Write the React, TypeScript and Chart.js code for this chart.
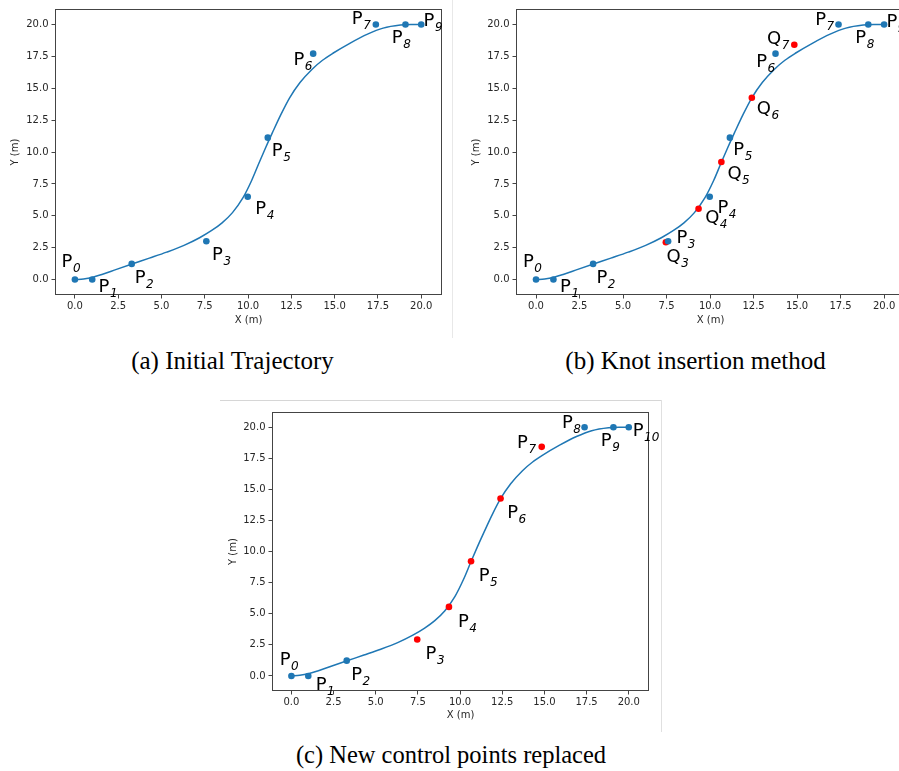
import React, { useEffect, useRef } from "react";
import { Chart, registerables } from "chart.js";

Chart.register(...registerables);

// ---------- data ----------
const tickValues = [0, 2.5, 5, 7.5, 10, 12.5, 15, 17.5, 20];

// B-spline trajectory
const curveX = [0, 0.5, 1.0, 1.6, 2.4, 3.3, 4.3, 5.3, 6.3, 7.2, 7.9, 8.5, 9.1, 9.7, 10.2, 10.65, 11.0, 11.4, 11.9, 12.4, 13.0, 13.7, 14.3, 14.9, 15.9, 16.9, 17.8, 18.8, 19.4, 20.0];
const curveY = [0, 0.05, 0.17, 0.42, 0.8, 1.22, 1.68, 2.15, 2.68, 3.28, 3.85, 4.45, 5.25, 6.4, 7.75, 9.2, 10.3, 11.5, 12.95, 14.25, 15.45, 16.5, 17.2, 17.75, 18.55, 19.25, 19.72, 19.96, 20.0, 20.0];

// initial control points P0..P9
const initialX = [0, 1.0, 3.28, 7.59, 9.98, 11.14, 13.76, 17.38, 19.09, 20.0];
const initialY = [0, 0, 1.23, 3.01, 6.49, 11.13, 17.72, 20.0, 20.0, 20.0];
const initialNames = ["0", "1", "2", "3", "4", "5", "6", "7", "8", "9"];

// inserted control points Q3..Q7
const insertedX = [7.46, 9.34, 10.65, 12.4, 14.84];
const insertedY = [2.93, 5.55, 9.22, 14.26, 18.42];
const insertedNames = ["3", "4", "5", "6", "7"];

// new control polygon (c): kept points and replaced points
const keptX = [0, 1.0, 3.28, 17.38, 19.09, 20.0];
const keptY = [0, 0, 1.23, 20.0, 20.0, 20.0];
const keptNames = ["0", "1", "2", "8", "9", "10"];
const replacedNames = ["3", "4", "5", "6", "7"];

// ---------- label offsets (pixels, styling only) ----------
const offA = [[-13.3, -13], [6.3, 12], [3, 18.7], [5.7, 18.7], [7.6, 17.3], [4, 18], [-19.7, 11], [-24, -0.7], [-13.6, 18.3], [2.3, 1.7]];
const offBP = [[-13, -12.6], [6.7, 12.4], [3.4, 18.7], [8.4, 2.3], [7.7, 16.6], [3.4, 17.7], [-19.3, 13], [-23.3, 0], [-13, 18.7], [2.3, 2.7]];
const offBQ = [[0.7, 19.7], [6.6, 14.6], [6, 17.3], [5, 16.7], [-27.3, -0.7]];
const offCK = [[-11.7, -11], [7.4, 14], [4.4, 19.3], [-22.6, 0.6], [-12.6, 19], [4, 9]];
const offCR = [[8.3, 19], [9, 19.7], [7.6, 19.7], [6.7, 19.6], [-24.6, 1.3]];

const BLUE = "#1f77b4";
const RED = "#ff0000";
const TXT = "#262626";
const FONT = "DejaVu Sans";

type Lbl = { x: number; y: number; name: string; sub: string; dx: number; dy: number };

function makeLabels(xs: number[], ys: number[], name: string, subs: string[], offs: number[][]): Lbl[] {
  return xs.map((x, i) => ({ x, y: ys[i], name, sub: subs[i], dx: offs[i][0], dy: offs[i][1] }));
}

function pts(xs: number[], ys: number[]) {
  return xs.map((x, i) => ({ x, y: ys[i] }));
}

type PanelSpec = {
  width: number;
  height: number;
  padTop: number;
  padRight: number;
  yWidth: number;
  xHeight: number;
  xTitlePad: number;
  yTitlePad: number;
  blue: { x: number; y: number }[];
  red: { x: number; y: number }[];
  labels: Lbl[];
};

function Panel({ spec }: { spec: PanelSpec }) {
  const ref = useRef<HTMLCanvasElement | null>(null);
  useEffect(() => {
    if (!ref.current) return;
    const labelPlugin = {
      id: "ptLabels",
      afterDatasetsDraw(chart: any) {
        const { ctx, chartArea, scales } = chart;
        ctx.save();
        ctx.strokeStyle = "#444";
        ctx.lineWidth = 1;
        ctx.strokeRect(
          Math.round(chartArea.left) + 0.5,
          Math.round(chartArea.top) + 0.5,
          Math.round(chartArea.right - chartArea.left) - 1,
          Math.round(chartArea.bottom - chartArea.top) - 1
        );
        ctx.fillStyle = "#000";
        ctx.textAlign = "left";
        ctx.textBaseline = "alphabetic";
        for (const l of spec.labels) {
          const px = scales.x.getPixelForValue(l.x) + l.dx;
          const py = scales.y.getPixelForValue(l.y) + l.dy;
          ctx.font = `18px "${FONT}"`;
          ctx.fillText(l.name, px, py);
          const w = ctx.measureText(l.name).width;
          ctx.font = `italic 12px "${FONT}"`;
          ctx.fillText(l.sub, px + w + 0.5, py + 5);
        }
        ctx.restore();
      },
    };
    const tickFont = { family: FONT, size: 10 };
    const grid = { drawOnChartArea: false, drawTicks: true, tickLength: 3.5, color: "#444", tickColor: "#444", tickWidth: 1 };
    const chart = new Chart(ref.current, {
      type: "scatter",
      data: {
        datasets: [
          { data: spec.blue, backgroundColor: BLUE, borderWidth: 0, pointRadius: 3.3, pointHoverRadius: 3.3 } as any,
          { data: spec.red, backgroundColor: RED, borderWidth: 0, pointRadius: 3.3, pointHoverRadius: 3.3 } as any,
          {
            data: pts(curveX, curveY),
            showLine: true,
            borderColor: BLUE,
            borderWidth: 1.5,
            pointRadius: 0,
            cubicInterpolationMode: "monotone",
            fill: false,
          } as any,
        ],
      },
      options: {
        responsive: false,
        animation: false,
        events: [],
        layout: { padding: { left: 0, top: spec.padTop, right: spec.padRight, bottom: 0 } },
        plugins: { legend: { display: false }, tooltip: { enabled: false } },
        scales: {
          x: {
            type: "linear",
            min: -1.15,
            max: 21.2,
            afterBuildTicks: (s: any) => {
              s.ticks = tickValues.map((v) => ({ value: v }));
            },
            afterFit: (s: any) => {
              s.height = spec.xHeight;
            },
            ticks: { callback: (v: any) => Number(v).toFixed(1), font: tickFont, color: TXT, padding: 2, maxRotation: 0, autoSkip: false },
            grid,
            border: { display: false },
            title: { display: true, text: "X (m)", font: tickFont, color: TXT, padding: { top: 0, bottom: spec.xTitlePad } },
          },
          y: {
            type: "linear",
            min: -1.21,
            max: 21.22,
            afterBuildTicks: (s: any) => {
              s.ticks = tickValues.map((v) => ({ value: v }));
            },
            afterFit: (s: any) => {
              s.width = spec.yWidth;
            },
            ticks: { callback: (v: any) => Number(v).toFixed(1), font: tickFont, color: TXT, padding: 3, autoSkip: false },
            grid,
            border: { display: false },
            title: { display: true, text: "Y (m)", font: tickFont, color: TXT, padding: { top: spec.yTitlePad, bottom: 0 } },
          },
        },
      } as any,
      plugins: [labelPlugin as any],
    });
    return () => chart.destroy();
  }, [spec]);
  return <canvas ref={ref} width={spec.width} height={spec.height} style={{ display: "block" }} />;
}

const specA: PanelSpec = {
  width: 450,
  height: 330,
  padTop: 9,
  padRight: 8,
  yWidth: 55,
  xHeight: 35,
  xTitlePad: 3.3,
  yTitlePad: 9.7,
  blue: pts(initialX, initialY),
  red: [],
  labels: makeLabels(initialX, initialY, "P", initialNames, offA),
};

const specB: PanelSpec = {
  width: 463,
  height: 330,
  padTop: 9,
  padRight: 8,
  yWidth: 66,
  xHeight: 35,
  xTitlePad: 3.3,
  yTitlePad: 20.7,
  blue: pts(initialX, initialY),
  red: pts(insertedX, insertedY),
  labels: [
    ...makeLabels(initialX, initialY, "P", initialNames, offBP),
    ...makeLabels(insertedX, insertedY, "Q", insertedNames, offBQ),
  ],
};

const specC: PanelSpec = {
  width: 441,
  height: 335,
  padTop: 17,
  padRight: 12,
  yWidth: 52,
  xHeight: 39,
  xTitlePad: 8.3,
  yTitlePad: 7.3,
  blue: pts(keptX, keptY),
  red: pts(insertedX, insertedY),
  labels: [
    ...makeLabels(keptX, keptY, "P", keptNames, offCK),
    ...makeLabels(insertedX, insertedY, "P", replacedNames, offCR),
  ],
};

const captionStyle: React.CSSProperties = {
  position: "absolute",
  transform: "translate(-50%, -50%)",
  fontFamily: '"Liberation Serif", serif',
  fontSize: 25,
  lineHeight: 1,
  whiteSpace: "nowrap",
  color: "#000",
};

export default function App() {
  return (
    <div style={{ position: "absolute", left: 0, top: 0, width: 899, height: 771, background: "#fff", overflow: "hidden" }}>
      <div style={{ position: "absolute", left: 0, top: 0 }}>
        <Panel spec={specA} />
      </div>
      <div style={{ position: "absolute", left: 452, top: 0, width: 1, height: 338, background: "#e8e8e8" }} />
      <div style={{ position: "absolute", left: 450, top: 0, width: 449, height: 330, overflow: "hidden" }}>
        <Panel spec={specB} />
      </div>
      <div style={{ position: "absolute", left: 220, top: 400, width: 441, height: 1, background: "#d6d6d6" }} />
      <div style={{ position: "absolute", left: 661, top: 400, width: 1, height: 332, background: "#e0e0e0" }} />
      <div style={{ position: "absolute", left: 220, top: 395 }}>
        <Panel spec={specC} />
      </div>
      <div style={{ ...captionStyle, left: 232.5, top: 360 }}>(a) Initial Trajectory</div>
      <div style={{ ...captionStyle, left: 695.5, top: 360 }}>(b) Knot insertion method</div>
      <div style={{ ...captionStyle, left: 451, top: 754.5, fontSize: 24.5 }}>(c) New control points replaced</div>
    </div>
  );
}
